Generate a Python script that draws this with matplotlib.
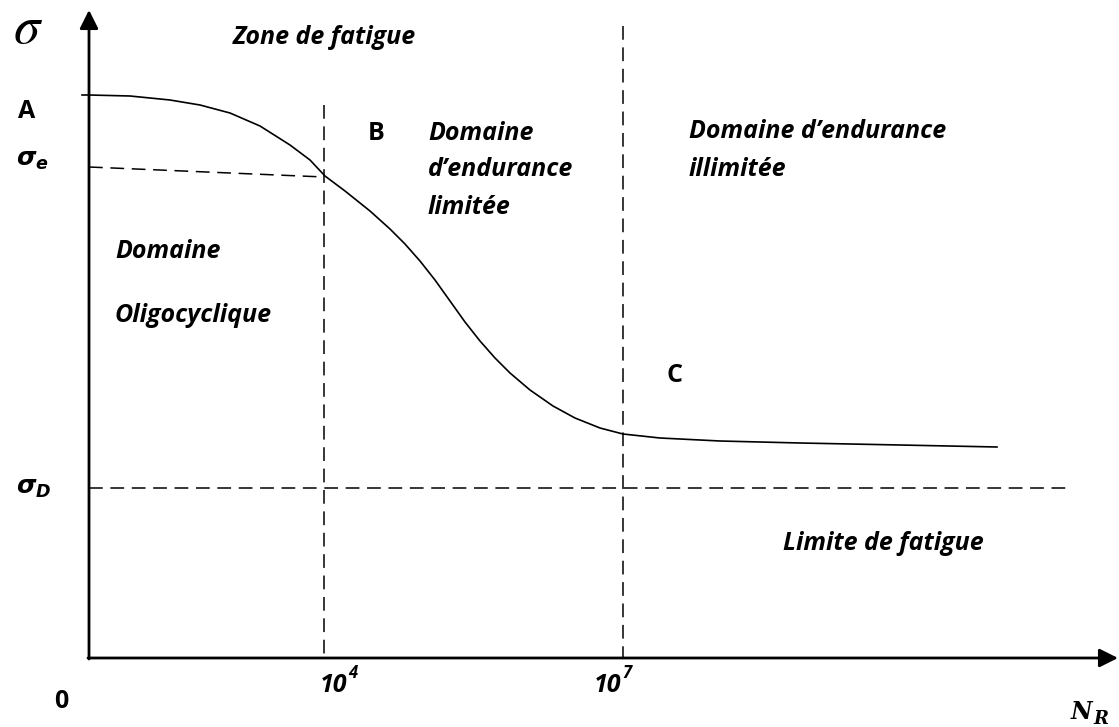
import matplotlib.pyplot as plt

# Schematic Woehler curve, drawn in diagram units (0..1119 x 0..727, y down)
curve_x = [89, 130, 170, 200, 230, 260, 290, 310, 325, 345, 370, 390, 405,
           420, 435, 450, 465, 480, 495, 510, 530, 553, 575, 600, 623,
           660, 720, 800, 900, 997]
curve_y = [95, 96, 100, 105, 113, 126, 145, 160, 176, 191, 211, 229, 244,
           261, 280, 301, 322, 341, 358, 373, 390, 406, 418, 428, 434,
           438, 441, 443, 445, 447]

x_origin, y_origin = 89, 658
x_end, y_end = 1118, 10
n_1e4, n_1e7 = 324, 623
sigma_e = (167, 177)   # y at axis, y at 10^4
sigma_d = 488
sigma_a = 95

fam = 'Open Sans'
font = dict(family=fam, fontweight='bold', fontstyle='italic', fontsize=18)
plain = dict(family=fam, fontweight='bold', fontsize=18)
sup = dict(family=fam, fontweight='bold', fontstyle='italic', fontsize=12)

fig = plt.figure(figsize=(11.19, 7.27), dpi=100)
ax = fig.add_axes([0, 0, 1, 1])
ax.set_xlim(0, 1119)
ax.set_ylim(727, 0)
ax.axis('off')

# axes with arrows
arrow = dict(arrowstyle='-|>', lw=2.0, color='black', mutation_scale=28,
             shrinkA=0, shrinkB=0)
ax.annotate('', xy=(x_origin, y_end), xytext=(x_origin, y_origin + 1), arrowprops=arrow)
ax.annotate('', xy=(x_end, y_origin), xytext=(x_origin - 1, y_origin), arrowprops=arrow)

# curve
ax.plot(curve_x, curve_y, color='black', lw=1.2, solid_joinstyle='round')
ax.plot([82, x_origin], [sigma_a, sigma_a], color='black', lw=1.2)

# dashed guides
dash = dict(color='black', lw=1.1, dashes=(9, 5))
ax.plot([n_1e4, n_1e4], [105, y_origin], **dash)
ax.plot([n_1e7, n_1e7], [26, y_origin], **dash)
ax.plot([x_origin, n_1e4], list(sigma_e), **dash)
ax.plot([x_origin, 1070], [sigma_d, sigma_d], **dash)

# labels
ax.text(13, 28, r'$\sigma$', math_fontfamily='stix', fontsize=38, va='center')
ax.text(18, 112, 'A', va='center', **plain)
ax.text(16, 160, r'$\boldsymbol{\sigma}_{\boldsymbol{e}}$', math_fontfamily='dejavusans',
        fontsize=18, va='center')
ax.text(16, 488, r'$\boldsymbol{\sigma}_{\boldsymbol{D}}$', math_fontfamily='dejavusans',
        fontsize=18, va='center')
ax.text(54, 702, '0', va='center', **plain)
ax.text(1071, 712, 'N', va='center', family='DejaVu Serif', fontweight='bold',
        fontstyle='italic', fontsize=17)
ax.text(1093, 719, 'R', va='center', family='DejaVu Serif', fontweight='bold',
        fontstyle='italic', fontsize=13)

ax.text(233, 37, 'Zone de fatigue', va='center', **font)
ax.text(368, 134, 'B', va='center', **plain)
ax.text(428, 133, 'Domaine', va='center', **font)
ax.text(428, 170, 'd\u2019endurance', va='center', **font)
ax.text(428, 207, 'limitée', va='center', **font)
ax.text(689, 132, 'Domaine d\u2019endurance', va='center', **font)
ax.text(689, 170, 'illimitée', va='center', **font)
ax.text(115, 252, 'Domaine', va='center', **font)
ax.text(115, 315, 'Oligocyclique', va='center', **font)
ax.text(666, 376, 'C', va='center', **plain)
ax.text(783, 543, 'Limite de fatigue', va='center', **font)

ax.text(320, 686, '10', va='center', **font)
ax.text(348, 673, '4', va='center', **sup)
ax.text(594, 686, '10', va='center', **font)
ax.text(622, 673, '7', va='center', **sup)

fig.savefig('out.png', dpi=100)
